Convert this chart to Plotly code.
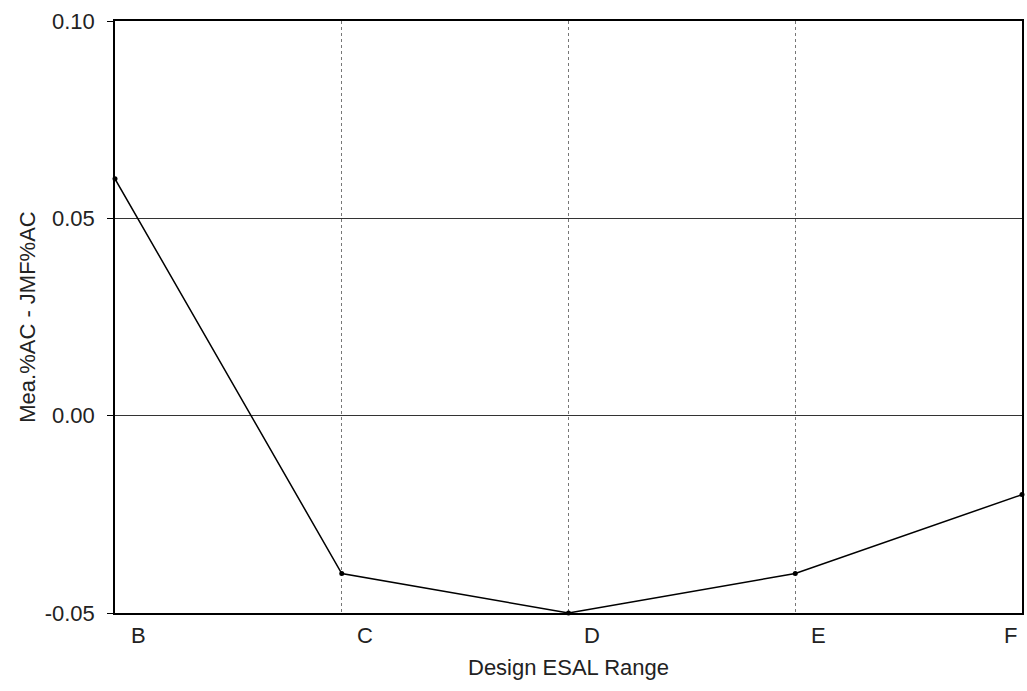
import plotly.graph_objects as go

categories = ["B", "C", "D", "E", "F"]
values = [0.06, -0.04, -0.05, -0.04, -0.02]
y_ticks = [-0.05, 0.00, 0.05, 0.10]
y_tick_labels = ["-0.05", "0.00", "0.05", "0.10"]

xpos = list(range(len(categories)))

fig = go.Figure()
fig.add_trace(go.Scatter(
    x=xpos, y=values, mode="lines+markers",
    line=dict(color="black", width=1.5),
    marker=dict(color="black", size=5),
    showlegend=False, cliponaxis=False,
))

font = dict(family="Liberation Sans, Arial, sans-serif", size=22, color="#222")

# category labels sit slightly right of their gridlines (last one inside the frame)
for i, c in enumerate(categories):
    shift = 23 if i < len(categories) - 1 else -12
    fig.add_annotation(x=xpos[i], y=0, xref="x", yref="paper", text=c,
                       showarrow=False, yanchor="top", yshift=-8, xshift=shift,
                       font=font)

fig.update_layout(
    width=1027, height=691,
    margin=dict(l=115, r=3, t=21, b=78),
    paper_bgcolor="white", plot_bgcolor="white",
    font=font,
    xaxis=dict(
        range=[0, len(categories) - 1],
        tickvals=xpos, showticklabels=False,
        ticks="", showgrid=True, gridcolor="#777", griddash="dot", gridwidth=1,
        showline=True, linecolor="black", linewidth=1.5, mirror=True,
        zeroline=False,
        title=dict(text="Design ESAL Range", font=font, standoff=46),
    ),
    yaxis=dict(
        range=[-0.05, 0.10], tickvals=y_ticks, ticktext=y_tick_labels,
        ticks="outside", ticklen=6, tickcolor="black", ticklabelstandoff=8,
        showgrid=True, gridcolor="#333", gridwidth=1,
        showline=True, linecolor="black", linewidth=1.5, mirror=True,
        zeroline=False,
        title=dict(text="Mea.%AC - JMF%AC", font=font, standoff=3),
    ),
)
fig.write_html("out.html", config={"displayModeBar": False},
               post_script="document.body.style.margin='0';")
